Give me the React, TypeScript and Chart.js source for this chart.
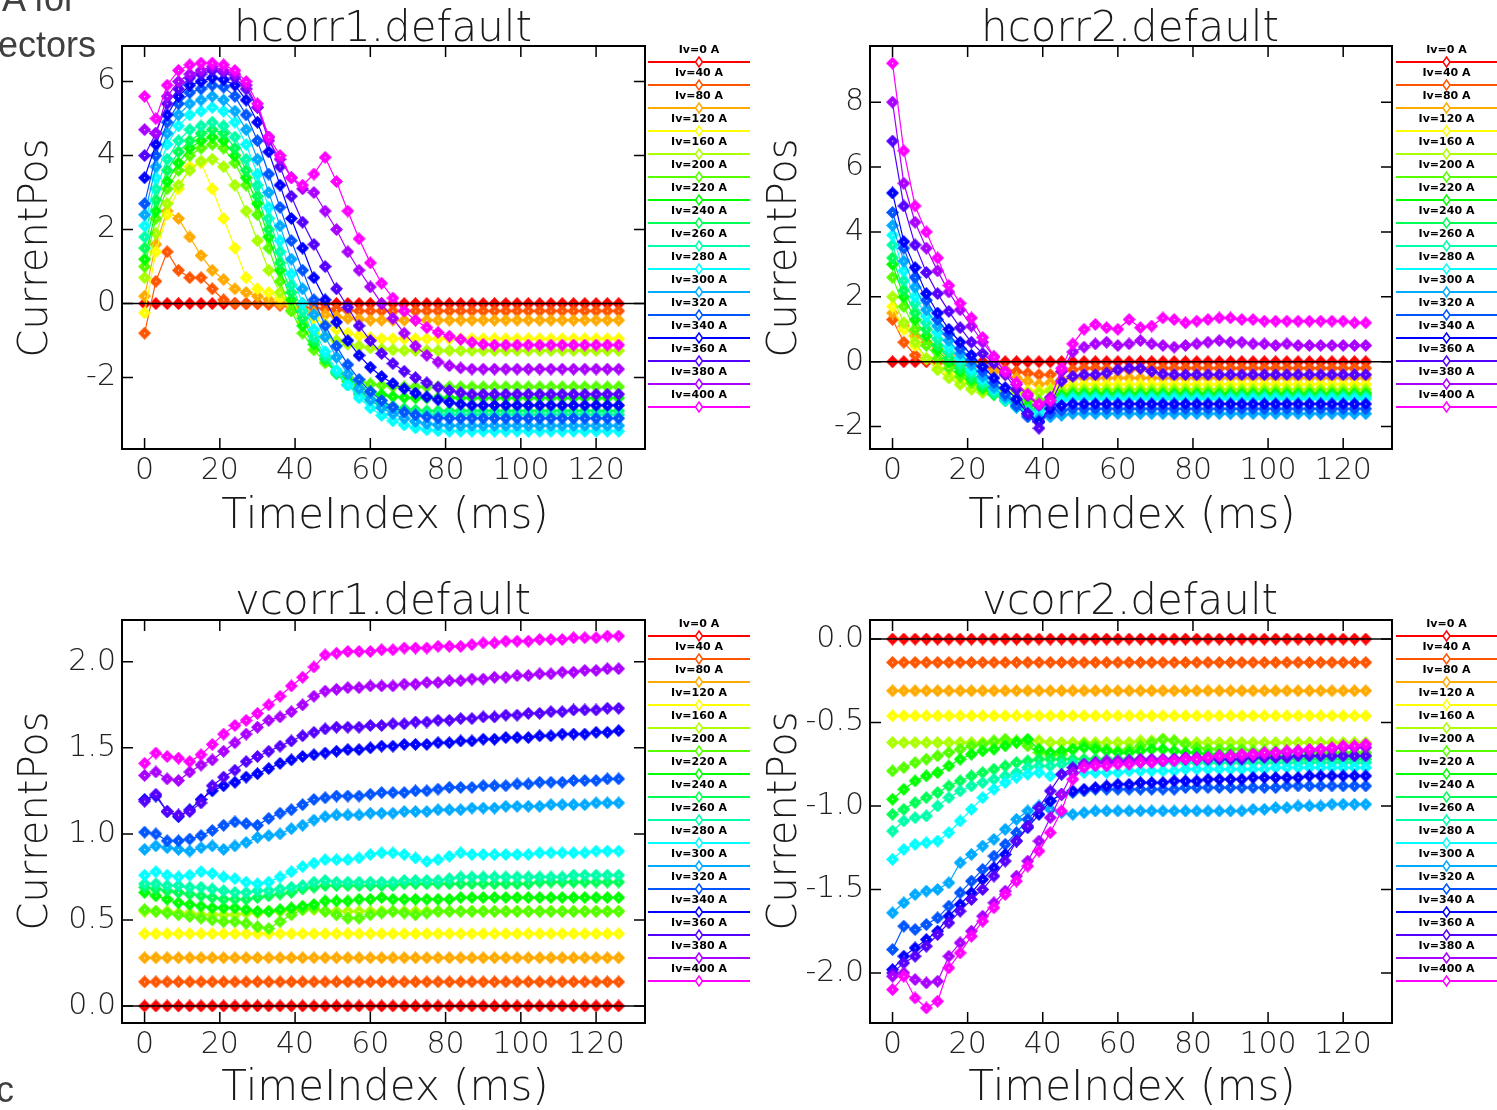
import React, { useEffect, useRef } from "react";
import { Chart, registerables } from "chart.js";
Chart.register(...registerables);

// ---------------- data ----------------
const TIME = [0, 3, 6, 9, 12, 15, 18, 21, 24, 27, 30, 33, 36, 39, 42, 45, 48, 51, 54, 57, 60, 63, 66, 69, 72, 75, 78, 81, 84, 87, 90, 93, 96, 99, 102, 105, 108, 111, 114, 117, 120, 123, 126];

const CURRENT_LABELS = ["Iv=0 A", "Iv=40 A", "Iv=80 A", "Iv=120 A", "Iv=160 A", "Iv=200 A", "Iv=220 A", "Iv=240 A", "Iv=260 A", "Iv=280 A", "Iv=300 A", "Iv=320 A", "Iv=340 A", "Iv=360 A", "Iv=380 A", "Iv=400 A"];
const SERIES_COLORS = ["#ff0000", "#ff5500", "#ffaa00", "#ffff00", "#aaff00", "#55ff00", "#00ff00", "#00ff55", "#00ffaa", "#00ffff", "#00aaff", "#0055ff", "#0000ff", "#5500ff", "#aa00ff", "#ff00ff"];

const X_TICKS = [0, 20, 40, 60, 80, 100, 120];
const HC1_Y_TICKS = [-2, 0, 2, 4, 6];
const HC2_Y_TICKS = [-2, 0, 2, 4, 6, 8];
const VC1_Y_TICKS = [0, 0.5, 1, 1.5, 2];
const VC2_Y_TICKS = [-2, -1.5, -1, -0.5, 0];

// hcorr1.default
const H1_0 = [
  0, 0, 0, 0, 0, 0, 0, 0, 0, 0,
  0, 0, 0, 0, 0, 0, 0, 0, 0, 0,
  0, 0, 0, 0, 0, 0, 0, 0, 0, 0,
  0, 0, 0, 0, 0, 0, 0, 0, 0, 0, 0, 0, 0];
const H1_1 = [
  -0.8, 0.6, 1.4, 0.9, 0.7, 0.7, 0.4, 0.1, 0, 0,
  0, -0.02, -0.05, -0.08, -0.1, -0.12, -0.14, -0.16, -0.18, -0.2,
  -0.2, -0.2, -0.2, -0.2, -0.2, -0.2, -0.2, -0.2, -0.2, -0.2,
  -0.2, -0.2, -0.2, -0.2, -0.2, -0.2, -0.2, -0.2, -0.2, -0.2, -0.2, -0.2, -0.2];
const H1_2 = [
  0.2, 1.6, 2.5, 2.3, 1.8, 1.3, 0.9, 0.65, 0.4, 0.3,
  0.2, 0.1, 0, -0.1, -0.2, -0.25, -0.3, -0.35, -0.4, -0.42,
  -0.45, -0.45, -0.45, -0.45, -0.45, -0.45, -0.45, -0.45, -0.45, -0.45,
  -0.45, -0.45, -0.45, -0.45, -0.45, -0.45, -0.45, -0.45, -0.45, -0.45, -0.45, -0.45, -0.45];
const H1_3 = [
  -0.25, 1.4, 2.4, 3.1, 3.7, 3.8, 3.1, 2.3, 1.5, 0.7,
  0.4, 0.3, 0.15, 0, -0.2, -0.4, -0.55, -0.7, -0.8, -0.87,
  -0.92, -0.95, -0.95, -0.95, -0.95, -0.95, -0.95, -0.95, -0.95, -0.95,
  -0.95, -0.95, -0.95, -0.95, -0.95, -0.95, -0.95, -0.95, -0.95, -0.95, -0.95, -0.95, -0.95];
const H1_4 = [
  0.7, 1.9, 2.7, 3.2, 3.6, 3.85, 3.9, 3.7, 3.2, 2.5,
  1.7, 0.9, 0.3, -0.2, -0.5, -0.75, -0.9, -1.0, -1.1, -1.15,
  -1.2, -1.23, -1.25, -1.27, -1.27, -1.27, -1.27, -1.27, -1.27, -1.27,
  -1.27, -1.27, -1.27, -1.27, -1.27, -1.27, -1.27, -1.27, -1.27, -1.27, -1.27, -1.27, -1.27];
const H1_5 = [
  1.0, 2.3, 3.1, 3.6, 4.0, 4.2, 4.3, 4.2, 3.8, 3.2,
  2.4, 1.5, 0.6, -0.2, -0.8, -1.25, -1.6, -1.85, -2.0, -2.1,
  -2.17, -2.21, -2.24, -2.25, -2.25, -2.25, -2.25, -2.25, -2.25, -2.25,
  -2.25, -2.25, -2.25, -2.25, -2.25, -2.25, -2.25, -2.25, -2.25, -2.25, -2.25, -2.25, -2.25];
const H1_6 = [
  1.2, 2.5, 3.3, 3.8, 4.2, 4.4, 4.5, 4.4, 4.0, 3.4,
  2.7, 1.8, 0.9, 0.1, -0.6, -1.1, -1.5, -1.85, -2.1, -2.27,
  -2.38, -2.46, -2.51, -2.54, -2.55, -2.55, -2.55, -2.55, -2.55, -2.55,
  -2.55, -2.55, -2.55, -2.55, -2.55, -2.55, -2.55, -2.55, -2.55, -2.55, -2.55, -2.55, -2.55];
const H1_7 = [
  1.5, 2.8, 3.6, 4.1, 4.4, 4.6, 4.7, 4.6, 4.2, 3.6,
  2.9, 2.0, 1.1, 0.3, -0.4, -1.0, -1.5, -1.9, -2.2, -2.42,
  -2.58, -2.7, -2.78, -2.84, -2.88, -2.9, -2.9, -2.9, -2.9, -2.9,
  -2.9, -2.9, -2.9, -2.9, -2.9, -2.9, -2.9, -2.9, -2.9, -2.9, -2.9, -2.9, -2.9];
const H1_8 = [
  1.8, 3.1, 3.9, 4.4, 4.7, 4.8, 4.9, 4.8, 4.5, 3.9,
  3.2, 2.3, 1.4, 0.5, -0.2, -0.9, -1.4, -1.85, -2.2, -2.45,
  -2.63, -2.77, -2.87, -2.94, -2.98, -3.0, -3.0, -3.0, -3.0, -3.0,
  -3.0, -3.0, -3.0, -3.0, -3.0, -3.0, -3.0, -3.0, -3.0, -3.0, -3.0, -3.0, -3.0];
const H1_9 = [
  2.1, 3.4, 4.3, 4.8, 5.1, 5.2, 5.3, 5.2, 4.9, 4.3,
  3.5, 2.6, 1.7, 0.8, 0, -0.7, -1.3, -1.8, -2.2, -2.55,
  -2.82, -3.02, -3.17, -3.28, -3.36, -3.41, -3.44, -3.45, -3.45, -3.45,
  -3.45, -3.45, -3.45, -3.45, -3.45, -3.45, -3.45, -3.45, -3.45, -3.45, -3.45, -3.45, -3.45];
const H1_10 = [
  2.4, 3.7, 4.6, 5.1, 5.4, 5.5, 5.6, 5.5, 5.2, 4.7,
  3.9, 3.0, 2.1, 1.2, 0.4, -0.3, -0.9, -1.45, -1.9, -2.3,
  -2.6, -2.82, -2.98, -3.1, -3.19, -3.25, -3.28, -3.3, -3.3, -3.3,
  -3.3, -3.3, -3.3, -3.3, -3.3, -3.3, -3.3, -3.3, -3.3, -3.3, -3.3, -3.3, -3.3];
const H1_11 = [
  2.7, 4.0, 4.9, 5.4, 5.7, 5.8, 5.9, 5.85, 5.6, 5.1,
  4.4, 3.5, 2.6, 1.7, 0.9, 0.1, -0.6, -1.15, -1.65, -2.05,
  -2.38, -2.62, -2.8, -2.93, -3.01, -3.06, -3.09, -3.1, -3.1, -3.1,
  -3.1, -3.1, -3.1, -3.1, -3.1, -3.1, -3.1, -3.1, -3.1, -3.1, -3.1, -3.1, -3.1];
const H1_12 = [
  3.4, 4.3, 5.1, 5.6, 5.9, 6.0, 6.1, 6.05, 5.9, 5.5,
  4.9, 4.1, 3.2, 2.3, 1.5, 0.7, 0.1, -0.5, -1.0, -1.4,
  -1.72, -1.97, -2.16, -2.3, -2.42, -2.52, -2.6, -2.67, -2.72, -2.75,
  -2.75, -2.75, -2.75, -2.75, -2.75, -2.75, -2.75, -2.75, -2.75, -2.75, -2.75, -2.75, -2.75];
const H1_13 = [
  4.0, 4.6, 5.4, 5.8, 6.1, 6.2, 6.3, 6.25, 6.1, 5.8,
  5.3, 4.5, 3.7, 2.9, 2.2, 1.6, 1.0, 0.4, -0.1, -0.6,
  -1.0, -1.35, -1.62, -1.83, -2.0, -2.14, -2.26, -2.35, -2.41, -2.45,
  -2.45, -2.45, -2.45, -2.45, -2.45, -2.45, -2.45, -2.45, -2.45, -2.45, -2.45, -2.45, -2.45];
const H1_14 = [
  4.7, 4.6, 5.6, 6.0, 6.2, 6.3, 6.4, 6.3, 6.2, 5.9,
  5.3, 4.4, 3.9, 3.4, 3.1, 3.0, 2.5, 2.0, 1.4, 0.9,
  0.45, 0, -0.4, -0.8, -1.15, -1.4, -1.58, -1.68, -1.74, -1.77,
  -1.77, -1.77, -1.77, -1.77, -1.77, -1.77, -1.77, -1.77, -1.77, -1.77, -1.77, -1.77, -1.77];
const H1_15 = [
  5.6, 5.0, 5.9, 6.3, 6.45, 6.5, 6.5, 6.45, 6.3, 6.0,
  5.4, 4.5, 4.0, 3.4, 3.2, 3.5, 3.95, 3.3, 2.5, 1.75,
  1.1, 0.55, 0.15, -0.2, -0.45, -0.65, -0.78, -0.88, -0.97, -1.05,
  -1.1, -1.12, -1.12, -1.12, -1.12, -1.12, -1.12, -1.12, -1.12, -1.12, -1.12, -1.12, -1.12];

// hcorr2.default
const H2_0 = [
  0, 0, 0, 0, 0, 0, 0, 0, 0, 0,
  0, 0, 0, 0, 0, 0, 0, 0, 0, 0,
  0, 0, 0, 0, 0, 0, 0, 0, 0, 0,
  0, 0, 0, 0, 0, 0, 0, 0, 0, 0, 0, 0, 0];
const H2_1 = [
  1.3, 0.6, 0.2, 0.05, 0, -0.05, -0.1, -0.1, -0.15, -0.2,
  -0.25, -0.3, -0.35, -0.4, -0.4, -0.3, -0.25, -0.2, -0.2, -0.22,
  -0.25, -0.25, -0.22, -0.2, -0.2, -0.2, -0.2, -0.2, -0.2, -0.2,
  -0.2, -0.2, -0.2, -0.2, -0.2, -0.2, -0.2, -0.2, -0.2, -0.2, -0.2, -0.2, -0.2];
const H2_2 = [
  1.5, 1.1, 0.8, 0.6, 0.4, 0.25, 0.1, 0, -0.15, -0.3,
  -0.4, -0.5, -0.6, -0.7, -0.65, -0.55, -0.5, -0.5, -0.5, -0.5,
  -0.5, -0.5, -0.5, -0.5, -0.5, -0.5, -0.5, -0.5, -0.5, -0.5,
  -0.5, -0.5, -0.5, -0.5, -0.5, -0.5, -0.5, -0.5, -0.5, -0.5, -0.5, -0.5, -0.5];
const H2_3 = [
  1.7, 1.0, 0.5, 0.1, -0.2, -0.4, -0.55, -0.65, -0.75, -0.8,
  -0.85, -0.85, -0.9, -0.9, -0.85, -0.75, -0.7, -0.7, -0.7, -0.7,
  -0.7, -0.7, -0.7, -0.7, -0.7, -0.7, -0.7, -0.7, -0.7, -0.7,
  -0.7, -0.7, -0.7, -0.7, -0.7, -0.7, -0.7, -0.7, -0.7, -0.7, -0.7, -0.7, -0.7];
const H2_4 = [
  2.0, 1.2, 0.6, 0.1, -0.25, -0.5, -0.7, -0.85, -0.95, -0.95,
  -0.95, -0.95, -0.95, -0.95, -0.9, -0.88, -0.85, -0.85, -0.85, -0.85,
  -0.85, -0.85, -0.85, -0.85, -0.85, -0.85, -0.85, -0.85, -0.85, -0.85,
  -0.85, -0.85, -0.85, -0.85, -0.85, -0.85, -0.85, -0.85, -0.85, -0.85, -0.85, -0.85, -0.85];
const H2_5 = [
  2.6, 1.7, 1.0, 0.5, 0.1, -0.2, -0.45, -0.65, -0.85, -1.0,
  -1.1, -1.15, -1.2, -1.2, -1.1, -1.0, -0.95, -0.95, -0.95, -0.95,
  -0.95, -0.95, -0.95, -0.95, -0.95, -0.95, -0.95, -0.95, -0.95, -0.95,
  -0.95, -0.95, -0.95, -0.95, -0.95, -0.95, -0.95, -0.95, -0.95, -0.95, -0.95, -0.95, -0.95];
const H2_6 = [
  3.0, 2.0, 1.3, 0.8, 0.35, 0, -0.3, -0.55, -0.8, -1.0,
  -1.15, -1.3, -1.35, -1.35, -1.2, -1.05, -1.0, -1.0, -1.0, -1.0,
  -1.0, -1.0, -1.0, -1.0, -1.0, -1.0, -1.0, -1.0, -1.0, -1.0,
  -1.0, -1.0, -1.0, -1.0, -1.0, -1.0, -1.0, -1.0, -1.0, -1.0, -1.0, -1.0, -1.0];
const H2_7 = [
  3.2, 2.2, 1.5, 1.0, 0.5, 0.1, -0.2, -0.5, -0.75, -1.0,
  -1.2, -1.35, -1.45, -1.45, -1.3, -1.1, -1.05, -1.05, -1.05, -1.05,
  -1.05, -1.05, -1.05, -1.05, -1.05, -1.05, -1.05, -1.05, -1.05, -1.05,
  -1.05, -1.05, -1.05, -1.05, -1.05, -1.05, -1.05, -1.05, -1.05, -1.05, -1.05, -1.05, -1.05];
const H2_8 = [
  3.6, 2.5, 1.8, 1.2, 0.7, 0.3, -0.05, -0.35, -0.65, -0.95,
  -1.2, -1.4, -1.5, -1.5, -1.35, -1.15, -1.1, -1.1, -1.1, -1.1,
  -1.1, -1.1, -1.1, -1.1, -1.1, -1.1, -1.1, -1.1, -1.1, -1.1,
  -1.1, -1.1, -1.1, -1.1, -1.1, -1.1, -1.1, -1.1, -1.1, -1.1, -1.1, -1.1, -1.1];
const H2_9 = [
  3.9, 2.8, 2.0, 1.4, 0.9, 0.45, 0.1, -0.25, -0.55, -0.85,
  -1.15, -1.4, -1.6, -1.6, -1.4, -1.2, -1.15, -1.15, -1.15, -1.15,
  -1.15, -1.15, -1.15, -1.15, -1.15, -1.15, -1.15, -1.15, -1.15, -1.15,
  -1.15, -1.15, -1.15, -1.15, -1.15, -1.15, -1.15, -1.15, -1.15, -1.15, -1.15, -1.15, -1.15];
const H2_10 = [
  4.2, 3.1, 2.3, 1.6, 1.1, 0.65, 0.25, -0.1, -0.45, -0.8,
  -1.1, -1.4, -1.65, -1.75, -1.7, -1.65, -1.6, -1.6, -1.6, -1.6,
  -1.6, -1.6, -1.6, -1.6, -1.6, -1.6, -1.6, -1.6, -1.6, -1.6,
  -1.6, -1.6, -1.6, -1.6, -1.6, -1.6, -1.6, -1.6, -1.6, -1.6, -1.6, -1.6, -1.6];
const H2_11 = [
  4.6, 3.5, 2.6, 1.9, 1.3, 0.85, 0.4, 0.05, -0.3, -0.65,
  -1.0, -1.35, -1.7, -1.85, -1.6, -1.5, -1.45, -1.45, -1.45, -1.45,
  -1.45, -1.45, -1.45, -1.45, -1.45, -1.45, -1.45, -1.45, -1.45, -1.45,
  -1.45, -1.45, -1.45, -1.45, -1.45, -1.45, -1.45, -1.45, -1.45, -1.45, -1.45, -1.45, -1.45];
const H2_12 = [
  5.2, 3.7, 2.9, 2.1, 1.5, 1.0, 0.6, 0.2, -0.15, -0.5,
  -0.8, -1.15, -1.6, -1.85, -1.45, -1.35, -1.3, -1.3, -1.3, -1.3,
  -1.3, -1.3, -1.3, -1.3, -1.3, -1.3, -1.3, -1.3, -1.3, -1.3,
  -1.3, -1.3, -1.3, -1.3, -1.3, -1.3, -1.3, -1.3, -1.3, -1.3, -1.3, -1.3, -1.3];
const H2_13 = [
  6.8, 4.8, 3.6, 2.75, 2.1, 1.55, 1.05, 0.6, 0.25, -0.05,
  -0.4, -0.85, -1.6, -2.05, -1.3, -0.6, -0.45, -0.4, -0.4, -0.35,
  -0.25, -0.2, -0.2, -0.3, -0.38, -0.4, -0.4, -0.4, -0.4, -0.4,
  -0.4, -0.4, -0.4, -0.4, -0.4, -0.4, -0.4, -0.4, -0.4, -0.4, -0.4, -0.4, -0.4];
const H2_14 = [
  8.0, 5.5, 4.3, 3.5, 2.8, 2.15, 1.6, 1.1, 0.6, 0.15,
  -0.35, -0.7, -1.05, -1.35, -1.1, -0.3, 0.3, 0.45, 0.55, 0.6,
  0.5, 0.55, 0.65, 0.55, 0.5, 0.45, 0.5, 0.55, 0.6, 0.65,
  0.6, 0.6, 0.55, 0.55, 0.5, 0.55, 0.5, 0.5, 0.5, 0.5, 0.5, 0.5, 0.5];
const H2_15 = [
  9.2, 6.5, 4.8, 4.0, 3.2, 2.35, 1.8, 1.35, 0.75, 0.15,
  -0.3, -0.65, -1.0, -1.3, -1.2, -0.2, 0.55, 1.0, 1.15, 1.05,
  1.0, 1.3, 1.05, 1.1, 1.35, 1.3, 1.2, 1.25, 1.3, 1.35,
  1.35, 1.3, 1.3, 1.25, 1.25, 1.25, 1.25, 1.25, 1.25, 1.25, 1.25, 1.2, 1.2];

// vcorr1.default
const V1_0 = [
  0, 0, 0, 0, 0, 0, 0, 0, 0, 0,
  0, 0, 0, 0, 0, 0, 0, 0, 0, 0,
  0, 0, 0, 0, 0, 0, 0, 0, 0, 0,
  0, 0, 0, 0, 0, 0, 0, 0, 0, 0, 0, 0, 0];
const V1_1 = [
  0.14, 0.14, 0.14, 0.14, 0.14, 0.14, 0.14, 0.14, 0.14, 0.14,
  0.14, 0.14, 0.14, 0.14, 0.14, 0.14, 0.14, 0.14, 0.14, 0.14,
  0.14, 0.14, 0.14, 0.14, 0.14, 0.14, 0.14, 0.14, 0.14, 0.14,
  0.14, 0.14, 0.14, 0.14, 0.14, 0.14, 0.14, 0.14, 0.14, 0.14, 0.14, 0.14, 0.14];
const V1_2 = [
  0.28, 0.28, 0.28, 0.28, 0.28, 0.28, 0.28, 0.28, 0.28, 0.28,
  0.28, 0.28, 0.28, 0.28, 0.28, 0.28, 0.28, 0.28, 0.28, 0.28,
  0.28, 0.28, 0.28, 0.28, 0.28, 0.28, 0.28, 0.28, 0.28, 0.28,
  0.28, 0.28, 0.28, 0.28, 0.28, 0.28, 0.28, 0.28, 0.28, 0.28, 0.28, 0.28, 0.28];
const V1_3 = [
  0.42, 0.42, 0.42, 0.42, 0.42, 0.42, 0.42, 0.42, 0.42, 0.42,
  0.42, 0.42, 0.42, 0.42, 0.42, 0.42, 0.42, 0.42, 0.42, 0.42,
  0.42, 0.42, 0.42, 0.42, 0.42, 0.42, 0.42, 0.42, 0.42, 0.42,
  0.42, 0.42, 0.42, 0.42, 0.42, 0.42, 0.42, 0.42, 0.42, 0.42, 0.42, 0.42, 0.42];
const V1_4 = [
  0.55, 0.55, 0.55, 0.54, 0.54, 0.53, 0.53, 0.53, 0.53, 0.54,
  0.54, 0.55, 0.55, 0.56, 0.56, 0.56, 0.55, 0.55, 0.55, 0.55,
  0.55, 0.55, 0.55, 0.55, 0.55, 0.55, 0.55, 0.55, 0.55, 0.55,
  0.55, 0.55, 0.55, 0.55, 0.55, 0.55, 0.55, 0.55, 0.55, 0.55, 0.55, 0.55, 0.55];
const V1_5 = [
  0.56, 0.55, 0.54, 0.53, 0.52, 0.51, 0.5, 0.49, 0.49, 0.48,
  0.46, 0.45, 0.49, 0.53, 0.56, 0.57, 0.55, 0.53, 0.51, 0.51,
  0.53, 0.54, 0.55, 0.54, 0.53, 0.54, 0.55, 0.55, 0.55, 0.55,
  0.55, 0.55, 0.55, 0.55, 0.55, 0.55, 0.55, 0.55, 0.55, 0.55, 0.55, 0.55, 0.55];
const V1_6 = [
  0.66, 0.64, 0.62, 0.6, 0.59, 0.58, 0.57, 0.57, 0.57, 0.56,
  0.55, 0.55, 0.56, 0.57, 0.58, 0.59, 0.61, 0.61, 0.61, 0.62,
  0.62, 0.63, 0.62, 0.62, 0.62, 0.62, 0.62, 0.62, 0.63, 0.63,
  0.63, 0.63, 0.63, 0.63, 0.63, 0.63, 0.63, 0.63, 0.63, 0.63, 0.63, 0.63, 0.63];
const V1_7 = [
  0.69, 0.68, 0.67, 0.66, 0.65, 0.64, 0.63, 0.62, 0.62, 0.62,
  0.63, 0.64, 0.65, 0.66, 0.68, 0.69, 0.7, 0.7, 0.7, 0.7,
  0.7, 0.7, 0.7, 0.71, 0.71, 0.71, 0.71, 0.71, 0.71, 0.71,
  0.71, 0.71, 0.71, 0.71, 0.71, 0.72, 0.72, 0.72, 0.72, 0.72, 0.72, 0.72, 0.72];
const V1_8 = [
  0.71, 0.71, 0.7, 0.7, 0.69, 0.69, 0.68, 0.67, 0.66, 0.66,
  0.67, 0.67, 0.68, 0.69, 0.7, 0.72, 0.73, 0.72, 0.72, 0.72,
  0.72, 0.72, 0.72, 0.73, 0.73, 0.73, 0.73, 0.74, 0.75, 0.75,
  0.75, 0.75, 0.75, 0.75, 0.75, 0.75, 0.75, 0.75, 0.76, 0.76, 0.76, 0.76, 0.76];
const V1_9 = [
  0.76, 0.78, 0.76, 0.75, 0.76, 0.78, 0.77, 0.75, 0.74, 0.72,
  0.71, 0.72, 0.75, 0.78, 0.81, 0.83, 0.85, 0.85, 0.85, 0.86,
  0.88, 0.89, 0.89, 0.88, 0.86, 0.84, 0.85, 0.87, 0.89, 0.88,
  0.88, 0.88, 0.88, 0.88, 0.88, 0.89, 0.89, 0.89, 0.89, 0.89, 0.9, 0.9, 0.9];
const V1_10 = [
  0.91, 0.93, 0.92, 0.91, 0.9, 0.92, 0.93, 0.91, 0.93, 0.95,
  0.98, 0.99, 1.0, 1.03, 1.05, 1.08, 1.1, 1.11, 1.11, 1.11,
  1.12, 1.12, 1.12, 1.13, 1.13, 1.13, 1.14, 1.14, 1.14, 1.15,
  1.15, 1.15, 1.16, 1.16, 1.16, 1.16, 1.17, 1.17, 1.17, 1.17, 1.18, 1.18, 1.18];
const V1_11 = [
  1.01, 1.0, 0.96, 0.96, 0.97, 0.99, 1.02, 1.05, 1.07, 1.06,
  1.05, 1.09, 1.12, 1.14, 1.17, 1.2, 1.21, 1.22, 1.22, 1.22,
  1.23, 1.24, 1.24, 1.24, 1.25, 1.25, 1.26, 1.27, 1.27, 1.27,
  1.28, 1.28, 1.28, 1.29, 1.29, 1.3, 1.3, 1.3, 1.31, 1.31, 1.31, 1.32, 1.32];
const V1_12 = [
  1.2, 1.22, 1.13, 1.1, 1.14, 1.2, 1.25, 1.28, 1.3, 1.33,
  1.35, 1.38, 1.41, 1.43, 1.45, 1.46, 1.47, 1.48, 1.49, 1.49,
  1.5, 1.51, 1.51, 1.52, 1.52, 1.52, 1.53, 1.53, 1.54, 1.54,
  1.55, 1.55, 1.56, 1.56, 1.56, 1.57, 1.57, 1.58, 1.58, 1.58, 1.59, 1.59, 1.6];
const V1_13 = [
  1.19, 1.23, 1.13, 1.11, 1.13, 1.18, 1.28, 1.33, 1.37, 1.42,
  1.45, 1.48, 1.51, 1.54, 1.57, 1.59, 1.61, 1.62, 1.62, 1.62,
  1.63, 1.63, 1.64, 1.64, 1.65, 1.65, 1.66, 1.66, 1.67, 1.67,
  1.68, 1.68, 1.69, 1.69, 1.7, 1.7, 1.71, 1.71, 1.72, 1.72, 1.72, 1.73, 1.73];
const V1_14 = [
  1.34, 1.36, 1.32, 1.31, 1.36, 1.4, 1.43, 1.48, 1.53, 1.58,
  1.62, 1.66, 1.68, 1.71, 1.75, 1.8, 1.83, 1.84, 1.85, 1.85,
  1.86, 1.86, 1.86, 1.87, 1.87, 1.88, 1.88, 1.89, 1.89, 1.9,
  1.9, 1.91, 1.91, 1.92, 1.92, 1.93, 1.93, 1.94, 1.94, 1.95, 1.95, 1.96, 1.96];
const V1_15 = [
  1.41, 1.47, 1.45, 1.44, 1.42, 1.46, 1.52, 1.58, 1.63, 1.66,
  1.7, 1.75, 1.8, 1.86, 1.91, 1.97, 2.04, 2.05, 2.06, 2.06,
  2.06, 2.07, 2.07, 2.08, 2.08, 2.08, 2.09, 2.09, 2.09, 2.1,
  2.11, 2.11, 2.12, 2.12, 2.12, 2.13, 2.13, 2.13, 2.14, 2.14, 2.14, 2.15, 2.15];

// vcorr2.default
const V2_0 = [
  0, 0, 0, 0, 0, 0, 0, 0, 0, 0,
  0, 0, 0, 0, 0, 0, 0, 0, 0, 0,
  0, 0, 0, 0, 0, 0, 0, 0, 0, 0,
  0, 0, 0, 0, 0, 0, 0, 0, 0, 0, 0, 0, 0];
const V2_1 = [
  -0.14, -0.14, -0.14, -0.14, -0.14, -0.14, -0.14, -0.14, -0.14, -0.14,
  -0.14, -0.14, -0.14, -0.14, -0.14, -0.14, -0.14, -0.14, -0.14, -0.14,
  -0.14, -0.14, -0.14, -0.14, -0.14, -0.14, -0.14, -0.14, -0.14, -0.14,
  -0.14, -0.14, -0.14, -0.14, -0.14, -0.14, -0.14, -0.14, -0.14, -0.14, -0.14, -0.14, -0.14];
const V2_2 = [
  -0.31, -0.31, -0.31, -0.31, -0.31, -0.31, -0.31, -0.31, -0.31, -0.31,
  -0.31, -0.31, -0.31, -0.31, -0.31, -0.31, -0.31, -0.31, -0.31, -0.31,
  -0.31, -0.31, -0.31, -0.31, -0.31, -0.31, -0.31, -0.31, -0.31, -0.31,
  -0.31, -0.31, -0.31, -0.31, -0.31, -0.31, -0.31, -0.31, -0.31, -0.31, -0.31, -0.31, -0.31];
const V2_3 = [
  -0.46, -0.46, -0.46, -0.46, -0.46, -0.46, -0.46, -0.46, -0.46, -0.46,
  -0.46, -0.46, -0.46, -0.46, -0.46, -0.46, -0.46, -0.46, -0.46, -0.46,
  -0.46, -0.46, -0.46, -0.46, -0.46, -0.46, -0.46, -0.46, -0.46, -0.46,
  -0.46, -0.46, -0.46, -0.46, -0.46, -0.46, -0.46, -0.46, -0.46, -0.46, -0.46, -0.46, -0.46];
const V2_4 = [
  -0.62, -0.62, -0.62, -0.62, -0.62, -0.62, -0.62, -0.62, -0.62, -0.62,
  -0.62, -0.62, -0.61, -0.61, -0.62, -0.62, -0.62, -0.62, -0.62, -0.62,
  -0.62, -0.62, -0.61, -0.61, -0.6, -0.61, -0.62, -0.62, -0.62, -0.62,
  -0.62, -0.62, -0.62, -0.62, -0.62, -0.62, -0.62, -0.62, -0.62, -0.62, -0.62, -0.62, -0.62];
const V2_5 = [
  -0.79, -0.77, -0.74, -0.72, -0.7, -0.68, -0.66, -0.64, -0.63, -0.61,
  -0.6, -0.61, -0.64, -0.68, -0.7, -0.69, -0.66, -0.63, -0.64, -0.66,
  -0.67, -0.66, -0.64, -0.62, -0.6, -0.61, -0.63, -0.65, -0.66, -0.66,
  -0.66, -0.66, -0.67, -0.67, -0.67, -0.67, -0.67, -0.68, -0.68, -0.68, -0.68, -0.68, -0.68];
const V2_6 = [
  -0.96, -0.9, -0.85, -0.82, -0.8, -0.76, -0.72, -0.69, -0.67, -0.66,
  -0.64, -0.62, -0.6, -0.66, -0.68, -0.67, -0.66, -0.65, -0.66, -0.67,
  -0.68, -0.68, -0.67, -0.66, -0.66, -0.67, -0.68, -0.68, -0.69, -0.69,
  -0.69, -0.69, -0.69, -0.69, -0.7, -0.7, -0.7, -0.7, -0.7, -0.7, -0.7, -0.7, -0.7];
const V2_7 = [
  -1.05, -1.02, -0.98, -0.95, -0.92, -0.88, -0.85, -0.82, -0.8, -0.78,
  -0.76, -0.74, -0.73, -0.72, -0.72, -0.72, -0.72, -0.72, -0.72, -0.72,
  -0.72, -0.72, -0.72, -0.72, -0.72, -0.72, -0.72, -0.72, -0.72, -0.72,
  -0.72, -0.72, -0.72, -0.72, -0.72, -0.72, -0.72, -0.72, -0.72, -0.72, -0.72, -0.72, -0.72];
const V2_8 = [
  -1.15, -1.09, -1.07, -1.06, -1.0, -0.95, -0.91, -0.88, -0.86, -0.84,
  -0.82, -0.8, -0.77, -0.76, -0.76, -0.75, -0.74, -0.74, -0.74, -0.74,
  -0.74, -0.74, -0.74, -0.74, -0.74, -0.74, -0.74, -0.74, -0.74, -0.74,
  -0.74, -0.74, -0.74, -0.74, -0.74, -0.74, -0.74, -0.74, -0.74, -0.74, -0.74, -0.74, -0.74];
const V2_9 = [
  -1.32, -1.26, -1.23, -1.22, -1.21, -1.16, -1.09, -1.02, -0.95, -0.9,
  -0.86, -0.83, -0.81, -0.8, -0.82, -0.81, -0.8, -0.8, -0.8, -0.8,
  -0.8, -0.79, -0.79, -0.79, -0.79, -0.79, -0.78, -0.78, -0.78, -0.78,
  -0.78, -0.78, -0.78, -0.78, -0.77, -0.77, -0.77, -0.77, -0.77, -0.77, -0.77, -0.77, -0.77];
const V2_10 = [
  -1.64, -1.58, -1.53, -1.51, -1.5, -1.46, -1.34, -1.29, -1.24, -1.2,
  -1.14, -1.08, -1.03, -1.0, -1.02, -1.04, -1.05, -1.04, -1.03, -1.03,
  -1.03, -1.03, -1.03, -1.03, -1.03, -1.03, -1.03, -1.03, -1.03, -1.03,
  -1.03, -1.03, -1.02, -1.02, -1.01, -1.01, -1.0, -1.0, -1.0, -0.99, -0.99, -0.99, -0.99];
const V2_11 = [
  -1.86, -1.72, -1.74, -1.71, -1.67, -1.6, -1.52, -1.45, -1.38, -1.3,
  -1.23, -1.16, -1.08, -1.01, -0.97, -0.93, -0.92, -0.91, -0.9, -0.9,
  -0.9, -0.9, -0.9, -0.9, -0.9, -0.9, -0.89, -0.89, -0.89, -0.89,
  -0.89, -0.89, -0.89, -0.89, -0.89, -0.88, -0.88, -0.88, -0.88, -0.88, -0.88, -0.88, -0.88];
const V2_12 = [
  -1.98, -1.9, -1.85, -1.8, -1.75, -1.66, -1.59, -1.52, -1.44, -1.37,
  -1.29, -1.21, -1.13, -1.05, -0.97, -0.93, -0.91, -0.9, -0.89, -0.88,
  -0.87, -0.87, -0.86, -0.86, -0.86, -0.85, -0.85, -0.85, -0.84, -0.84,
  -0.84, -0.84, -0.83, -0.83, -0.83, -0.83, -0.83, -0.82, -0.82, -0.82, -0.82, -0.82, -0.82];
const V2_13 = [
  -2.0, -1.94, -1.9, -1.84, -1.77, -1.7, -1.63, -1.56, -1.5, -1.42,
  -1.33, -1.21, -1.12, -1.01, -0.91, -0.81, -0.77, -0.75, -0.74, -0.74,
  -0.74, -0.73, -0.73, -0.73, -0.73, -0.72, -0.72, -0.72, -0.72, -0.72,
  -0.72, -0.72, -0.71, -0.71, -0.71, -0.71, -0.7, -0.7, -0.7, -0.7, -0.7, -0.7, -0.7];
const V2_14 = [
  -2.02, -2.0, -2.04, -2.06, -2.05, -1.9, -1.82, -1.75, -1.66, -1.58,
  -1.51, -1.42, -1.33, -1.21, -1.07, -0.93, -0.8, -0.75, -0.74, -0.73,
  -0.73, -0.73, -0.72, -0.72, -0.72, -0.72, -0.71, -0.71, -0.71, -0.7,
  -0.7, -0.7, -0.69, -0.69, -0.68, -0.68, -0.67, -0.67, -0.66, -0.66, -0.65, -0.65, -0.65];
const V2_15 = [
  -2.1, -2.02, -2.15, -2.21, -2.17, -1.97, -1.88, -1.78, -1.69, -1.61,
  -1.53, -1.45, -1.36, -1.27, -1.16, -1.03, -0.84, -0.77, -0.76, -0.76,
  -0.75, -0.75, -0.74, -0.74, -0.73, -0.73, -0.72, -0.72, -0.71, -0.7,
  -0.7, -0.69, -0.69, -0.68, -0.68, -0.67, -0.67, -0.66, -0.66, -0.65, -0.64, -0.64, -0.63];

const HCORR1 = [H1_0, H1_1, H1_2, H1_3, H1_4, H1_5, H1_6, H1_7, H1_8, H1_9, H1_10, H1_11, H1_12, H1_13, H1_14, H1_15];
const HCORR2 = [H2_0, H2_1, H2_2, H2_3, H2_4, H2_5, H2_6, H2_7, H2_8, H2_9, H2_10, H2_11, H2_12, H2_13, H2_14, H2_15];
const VCORR1 = [V1_0, V1_1, V1_2, V1_3, V1_4, V1_5, V1_6, V1_7, V1_8, V1_9, V1_10, V1_11, V1_12, V1_13, V1_14, V1_15];
const VCORR2 = [V2_0, V2_1, V2_2, V2_3, V2_4, V2_5, V2_6, V2_7, V2_8, V2_9, V2_10, V2_11, V2_12, V2_13, V2_14, V2_15];

// ---------------- layout ----------------
type Panel = {
  title: string; series: number[][]; yMin: number; yMax: number; yTicks: number[]; decimals: number;
  left: number; top: number; width: number; height: number;
  plotLeft: number; plotTop: number; plotRight: number; plotBottom: number;
  titleX: number; titleY: number; xTitleX: number; xTitleY: number; yTitleX: number; yTitleY: number;
  legLeft: number; legRight: number; legTop: number;
};

const FONT = "'DejaVu Sans', sans-serif";

const PANELS: Panel[] = [
  { title: "hcorr1.default", series: HCORR1, yMin: -3.93, yMax: 6.96, yTicks: HC1_Y_TICKS, decimals: 0,
    left: 0, top: 0, width: 760, height: 555, plotLeft: 122, plotTop: 46, plotRight: 645, plotBottom: 449,
    titleX: 383, titleY: 41, xTitleX: 385, xTitleY: 528, yTitleX: 47, yTitleY: 248, legLeft: 648, legRight: 750, legTop: 62 },
  { title: "hcorr2.default", series: HCORR2, yMin: -2.69, yMax: 9.73, yTicks: HC2_Y_TICKS, decimals: 0,
    left: 760, top: 0, width: 737, height: 555, plotLeft: 110, plotTop: 46, plotRight: 632, plotBottom: 449,
    titleX: 370, titleY: 41, xTitleX: 372, xTitleY: 528, yTitleX: 36, yTitleY: 248, legLeft: 636, legRight: 737, legTop: 62 },
  { title: "vcorr1.default", series: VCORR1, yMin: -0.099, yMax: 2.243, yTicks: VC1_Y_TICKS, decimals: 1,
    left: 0, top: 555, width: 760, height: 555, plotLeft: 122, plotTop: 65, plotRight: 645, plotBottom: 468,
    titleX: 383, titleY: 59, xTitleX: 385, xTitleY: 545, yTitleX: 47, yTitleY: 266, legLeft: 648, legRight: 750, legTop: 81 },
  { title: "vcorr2.default", series: VCORR2, yMin: -2.30, yMax: 0.114, yTicks: VC2_Y_TICKS, decimals: 1,
    left: 760, top: 555, width: 737, height: 555, plotLeft: 110, plotTop: 65, plotRight: 632, plotBottom: 468,
    titleX: 370, titleY: 59, xTitleX: 372, xTitleY: 545, yTitleX: 36, yTitleY: 266, legLeft: 636, legRight: 737, legTop: 81 },
];

// filled diamond marker with a tiny white centre, like the dense overlapping symbols of the original
function makeMarker(color: string): HTMLCanvasElement {
  const c = document.createElement("canvas");
  c.width = 13; c.height = 13;
  const g = c.getContext("2d")!;
  g.fillStyle = color;
  g.beginPath(); g.moveTo(6.5, 0); g.lineTo(13, 6.5); g.lineTo(6.5, 13); g.lineTo(0, 6.5); g.closePath(); g.fill();
  g.fillStyle = "rgba(255,255,255,0.85)";
  g.fillRect(6, 6, 1.2, 1.2);
  return c;
}

function makeDeco(p: Panel) {
  return {
    id: "deco",
    afterDraw(chart: any) {
      const { ctx, chartArea: a } = chart;
      const xs = chart.scales.x, ys = chart.scales.y;
      ctx.save();
      ctx.strokeStyle = "#000";
      const y0 = ys.getPixelForValue(0);
      ctx.lineWidth = 1.6;
      ctx.beginPath(); ctx.moveTo(a.left, y0); ctx.lineTo(a.right, y0); ctx.stroke();
      ctx.lineWidth = 2;
      ctx.strokeRect(a.left, a.top, a.right - a.left, a.bottom - a.top);
      ctx.lineWidth = 1.5;
      ctx.beginPath();
      xs.ticks.forEach((t: any) => {
        const x = xs.getPixelForValue(t.value);
        ctx.moveTo(x, a.bottom); ctx.lineTo(x, a.bottom - 11);
        ctx.moveTo(x, a.top); ctx.lineTo(x, a.top + 11);
      });
      ys.ticks.forEach((t: any) => {
        const y = ys.getPixelForValue(t.value);
        ctx.moveTo(a.left, y); ctx.lineTo(a.left + 11, y);
        ctx.moveTo(a.right, y); ctx.lineTo(a.right - 11, y);
      });
      ctx.stroke();

      ctx.fillStyle = "#1a1a1a";
      ctx.textAlign = "center";
      ctx.textBaseline = "alphabetic";
      ctx.font = `200 42px ${FONT}`;
      ctx.fillText(p.title, p.titleX, p.titleY);
      ctx.fillText("TimeIndex (ms)", p.xTitleX, p.xTitleY);
      ctx.save();
      ctx.translate(p.yTitleX, p.yTitleY);
      ctx.rotate(-Math.PI / 2);
      ctx.font = `200 40px ${FONT}`;
      ctx.fillText("CurrentPos", 0, 0);
      ctx.restore();

      // legend
      const cx = (p.legLeft + p.legRight) / 2;
      for (let i = 0; i < CURRENT_LABELS.length; i++) {
        const y = p.legTop + i * 23;
        const c = SERIES_COLORS[i];
        ctx.strokeStyle = c; ctx.lineWidth = 2;
        ctx.beginPath(); ctx.moveTo(p.legLeft, y); ctx.lineTo(p.legRight, y); ctx.stroke();
        ctx.beginPath();
        ctx.moveTo(cx, y - 5); ctx.lineTo(cx + 3.5, y); ctx.lineTo(cx, y + 5); ctx.lineTo(cx - 3.5, y); ctx.closePath();
        ctx.fillStyle = "#fff"; ctx.fill();
        ctx.lineWidth = 1.5; ctx.stroke();
        ctx.fillStyle = "#000";
        ctx.font = `bold 11px ${FONT}`;
        ctx.textBaseline = "middle";
        ctx.fillText(CURRENT_LABELS[i], cx, y - 12);
        ctx.textBaseline = "alphabetic";
      }
      ctx.restore();
    },
  };
}

function PanelChart({ p }: { p: Panel }) {
  const ref = useRef<HTMLCanvasElement>(null);
  useEffect(() => {
    const canvas = ref.current!;
    const markers = SERIES_COLORS.map(makeMarker);
    const chart = new Chart(canvas, {
      type: "line",
      data: {
        datasets: p.series.map((vals, i) => ({
          label: CURRENT_LABELS[i],
          data: TIME.map((t, j) => ({ x: t, y: vals[j] })),
          borderColor: SERIES_COLORS[i],
          backgroundColor: SERIES_COLORS[i],
          borderWidth: 1.2,
          pointStyle: markers[i],
          pointRadius: 6,
          fill: false,
          tension: 0,
          order: 15 - i,
        })),
      },
      options: {
        responsive: false,
        animation: false,
        events: [],
        layout: { autoPadding: false, padding: { left: 0, top: p.plotTop, right: p.width - p.plotRight, bottom: 0 } },
        plugins: { legend: { display: false }, tooltip: { enabled: false }, title: { display: false } },
        scales: {
          x: {
            type: "linear", min: -6, max: 133,
            grid: { display: false, drawTicks: false }, border: { display: false },
            afterBuildTicks: (s: any) => { s.ticks = X_TICKS.map((v) => ({ value: v })); },
            afterFit: (s: any) => { s.height = p.height - p.plotBottom; },
            ticks: { autoSkip: false, maxRotation: 0, padding: 4, color: "#222", font: { family: FONT, size: 30, weight: 200 as any },
              callback: (v: any) => String(v) },
          },
          y: {
            type: "linear", min: p.yMin, max: p.yMax,
            grid: { display: false, drawTicks: false }, border: { display: false },
            afterBuildTicks: (s: any) => { s.ticks = p.yTicks.map((v) => ({ value: v })); },
            afterFit: (s: any) => { s.width = p.plotLeft; },
            ticks: { autoSkip: false, padding: 6, color: "#222", font: { family: FONT, size: 30, weight: 200 as any },
              callback: (v: any) => Number(v).toFixed(p.decimals) },
          },
        },
      } as any,
      plugins: [makeDeco(p)],
    });
    return () => chart.destroy();
  }, []);
  return (
    <canvas ref={ref} width={p.width} height={p.height}
      style={{ position: "absolute", left: p.left, top: p.top, width: p.width, height: p.height }} />
  );
}

export default function App() {
  const slideText: React.CSSProperties = {
    position: "absolute", fontFamily: "'Liberation Sans', Arial, sans-serif", fontSize: 36, lineHeight: "36px",
    color: "#404040", whiteSpace: "nowrap",
  };
  return (
    <div style={{ position: "absolute", left: 0, top: 0, width: 1497, height: 1110, background: "#fff", overflow: "hidden" }}>
      {PANELS.map((p) => <PanelChart key={p.title} p={p} />)}
      <div style={{ ...slideText, left: 2, top: -19 }}>A for</div>
      <div style={{ ...slideText, left: -2, top: 27 }}>ectors</div>
      <div style={{ ...slideText, left: -4, top: 1072 }}>c</div>
    </div>
  );
}
